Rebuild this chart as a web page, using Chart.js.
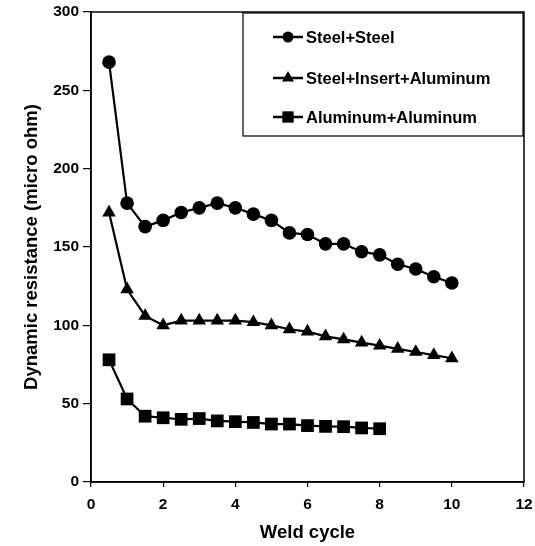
<!DOCTYPE html>
<html>
<head>
<meta charset="utf-8">
<script src="https://cdn.jsdelivr.net/npm/chart.js@4"></script>
<style>
	html, body { margin: 0; padding: 0; background: #fff; }
	#wrap { width: 535px; height: 546px; }
</style>
</head>
<body>
<div id="wrap"><canvas id="chart" width="535" height="546"></canvas></div>
<script>
// weld cycles (x)
var cyclesSteel = [0.5, 1, 1.5, 2, 2.5, 3, 3.5, 4, 4.5, 5, 5.5, 6, 6.5, 7, 7.5, 8, 8.5, 9, 9.5, 10];
var cyclesAlu = [0.5, 1, 1.5, 2, 2.5, 3, 3.5, 4, 4.5, 5, 5.5, 6, 6.5, 7, 7.5, 8];

// dynamic resistance (micro ohm)
var steelSteel = [268, 178, 163, 167, 172, 175, 178, 175, 171, 167, 159, 158, 152, 152, 147, 145, 139, 136, 131, 127];
var steelInsertAlu = [172, 123, 106, 100, 103, 103, 103, 103, 102, 100, 97.5, 96, 93, 91, 89, 87, 85, 83, 81, 79];
var aluAlu = [78, 53, 42, 41, 40, 40.5, 39, 38.5, 38, 37, 37, 36, 35.5, 35.3, 34.5, 34];

var seriesNames = ["Steel+Steel", "Steel+Insert+Aluminum", "Aluminum+Aluminum"];
var xTicks = [0, 2, 4, 6, 8, 10, 12];
var yTicks = [0, 50, 100, 150, 200, 250, 300];

var FONT = "'Liberation Sans', Arial, sans-serif";

function toPoints(xs, ys){
	return ys.map(function(v, i){ return {x: xs[i], y: v}; });
}

function noPad(s){
	s.paddingLeft = 0; s.paddingRight = 0; s.paddingTop = 0; s.paddingBottom = 0;
}

var frameBox = {
	id: "frameBox",
	afterDraw: function(chart){
		var ctx = chart.ctx, a = chart.chartArea;
		ctx.save();
		ctx.strokeStyle = "#000";
		ctx.lineWidth = 1.5;
		ctx.strokeRect(a.left, a.top, a.right - a.left, a.bottom - a.top);

		// legend box
		var bx = 243, by = 13, bw = 280, bh = 123;
		ctx.fillStyle = "#fff";
		ctx.fillRect(bx, by, bw, bh);
		ctx.lineWidth = 1.2;
		ctx.strokeRect(bx, by, bw, bh);

		var rows = [37, 78, 117];
		var styles = [["circle", 5.5], ["triangle", 7], ["rect", 8]];
		ctx.font = "bold 16.5px " + FONT;
		ctx.textBaseline = "middle";
		ctx.textAlign = "left";
		for (var i = 0; i < seriesNames.length; i++) {
			var y = rows[i];
			ctx.strokeStyle = "#000";
			ctx.lineWidth = 2.5;
			ctx.beginPath();
			ctx.moveTo(273, y);
			ctx.lineTo(303, y);
			ctx.stroke();
			ctx.fillStyle = "#000";
			Chart.helpers.drawPoint(ctx, {pointStyle: styles[i][0], radius: styles[i][1], rotation: 0, borderWidth: 0}, 288, y);
			ctx.fillStyle = "#000";
			ctx.fillText(seriesNames[i], 306, y + 1);
		}
		ctx.restore();
	}
};

var lineDs = function(label, pts, style, r){
	return {
		label: label,
		data: pts,
		borderColor: "#000",
		backgroundColor: "#000",
		borderWidth: 2.2,
		pointStyle: style,
		pointRadius: r,
		pointBorderWidth: 0,
		pointBackgroundColor: "#000",
		tension: 0
	};
};

new Chart(document.getElementById("chart"), {
	type: "line",
	data: {
		datasets: [
			lineDs(seriesNames[0], toPoints(cyclesSteel, steelSteel), "circle", 6.8),
			lineDs(seriesNames[1], toPoints(cyclesSteel, steelInsertAlu), "triangle", 7.8),
			lineDs(seriesNames[2], toPoints(cyclesAlu, aluAlu), "rect", 9)
		]
	},
	options: {
		responsive: false,
		animation: false,
		layout: {padding: {top: 12, right: 11, left: 0, bottom: 0}},
		plugins: {legend: {display: false}, tooltip: {enabled: false}},
		scales: {
			x: {
				type: "linear",
				min: 0, max: 12,
				afterFit: function(s){ s.height = 64; noPad(s); },
				afterBuildTicks: function(s){ s.ticks = xTicks.map(function(v){ return {value: v}; }); },
				grid: {display: true, drawOnChartArea: false, tickLength: 5, color: "#000", lineWidth: 1.2},
				border: {display: true, color: "#000", width: 1.5},
				ticks: {color: "#000", padding: 8, maxRotation: 0, font: {family: FONT, size: 15.5, weight: "bold"}},
				title: {display: true, text: "Weld cycle", color: "#000", padding: {top: 0, bottom: 2}, font: {family: FONT, size: 18.5, weight: "bold"}}
			},
			y: {
				type: "linear",
				min: 0, max: 300,
				afterFit: function(s){ s.width = 91; noPad(s); },
				afterBuildTicks: function(s){ s.ticks = yTicks.map(function(v){ return {value: v}; }); },
				grid: {display: true, drawOnChartArea: false, tickLength: 8, color: "#000", lineWidth: 1.2},
				border: {display: true, color: "#000", width: 1.5},
				ticks: {color: "#000", padding: 4, font: {family: FONT, size: 15.5, weight: "bold"}},
				title: {display: true, text: "Dynamic resistance (micro ohm)", color: "#000", padding: {top: 21, bottom: 0}, font: {family: FONT, size: 18.5, weight: "bold"}}
			}
		}
	},
	plugins: [frameBox]
});
</script>
</body>
</html>
